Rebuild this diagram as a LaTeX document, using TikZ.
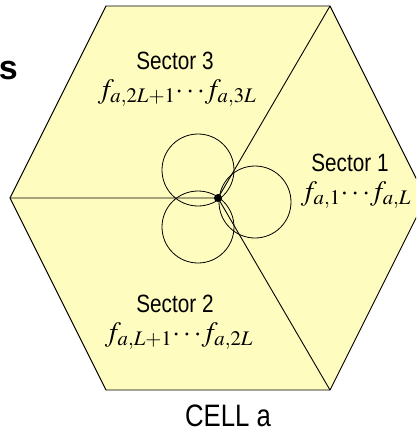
\documentclass[tikz,border=0pt]{standalone}
\usepackage{mathptmx}
\usepackage{fontspec}
\setsansfont[FakeStretch=0.83]{Liberation Sans}
\definecolor{cellfill}{RGB}{255,252,192}
\definecolor{cellline}{RGB}{0,0,0}
\usetikzlibrary{positioning}

\begin{document}
\begin{tikzpicture}[x=1pt,y=-1pt,every node/.style={font=\sffamily\fontsize{25}{30}\selectfont,inner sep=0pt},
    freqs/.style={font=\fontsize{28}{32}\selectfont,anchor=base},
    beam/.style={draw=cellline,line width=0.8pt}]
      \clip (0,0) rectangle (416,432);
      \useasboundingbox (0,0) rectangle (416,432);
      % corners of the cell
      \coordinate (west) at (10,198);
      \coordinate (nw) at (106,6);
      \coordinate (ne) at (330,6);
      \coordinate (east) at (426,198);
      \coordinate (se) at (330,390);
      \coordinate (sw) at (106,390);
      \coordinate (bs) at (218,198);
      \fill[cellfill] (west) -- (nw) -- (ne) -- (east) -- (se) -- (sw) -- cycle;
      \draw[cellline,line width=0.9pt] (west) -- (nw) -- (ne) -- (east) -- (se) -- (sw) -- cycle;
      \draw[cellline,line width=0.9pt] (west) -- (bs) -- (ne);
      \draw[cellline,line width=0.9pt] (bs) -- (se);
      % antenna beams
      \draw[beam] (255,202) circle (36);
      \draw[beam] (198,227) circle (36);
      \draw[beam] (198,170) circle (36);
      \fill[cellline] (bs) circle (4);
      \node[font=\bfseries\fontsize{34}{38}\selectfont\fontspec{Liberation Sans},anchor=base east] (cut) at (18,79) {s};
      \node[anchor=base] (sec3) at (175,69) {Sector 3};
      \node[freqs] (sec3f) at (177,98) {$f_{a,2L+1}\!\cdots\! f_{a,3L}$};
      \node[anchor=base] (sec1) at (350,171) {Sector 1};
      \node[freqs] (sec1f) at (356,200) {$f_{a,1}\!\cdots\! f_{a,L}$};
      \node[anchor=base] (sec2) at (175,312) {Sector 2};
      \node[freqs] (sec2f) at (179,341) {$f_{a,L+1}\!\cdots\! f_{a,2L}$};
      \node[anchor=base,font=\sffamily\fontsize{31}{36}\selectfont] (cell) at (228,426) {CELL a};
    \end{tikzpicture}
\end{document}
